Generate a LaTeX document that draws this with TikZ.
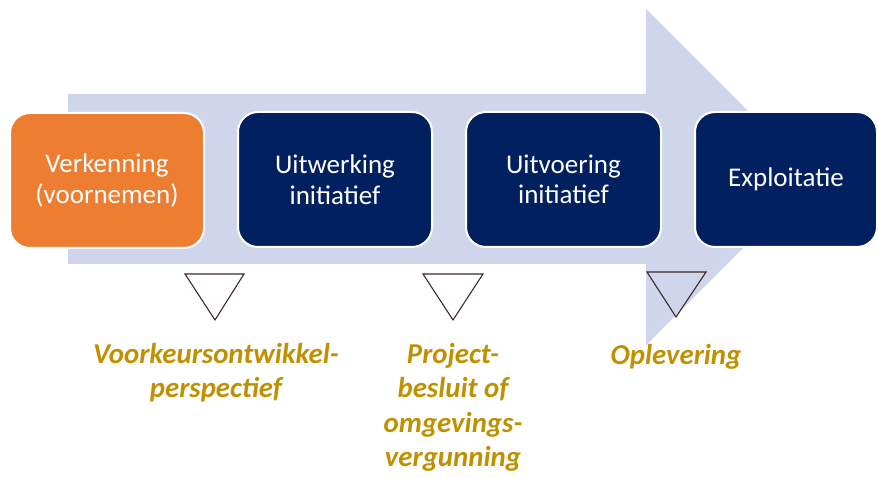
\documentclass[tikz,border=0pt]{standalone}
\usepackage{fontspec}
\setmainfont{Carlito}
\definecolor{arrowblue}{HTML}{CFD5EA}
\definecolor{navy}{HTML}{002060}
\definecolor{orangebox}{HTML}{ED7D31}
\definecolor{gold}{HTML}{BF9000}
\definecolor{tribrown}{HTML}{3C2A2A}
\begin{document}
\begin{tikzpicture}[x=1pt,y=-1pt,
  phase/.style={rounded corners=20pt, draw=white, line width=2pt, text=white,
    minimum height=135pt, inner sep=0pt, align=center,
    font=\fontsize{27}{30.5}\selectfont},
  milestone/.style={draw=tribrown, line width=1.1pt, line join=miter},
  mlabel/.style={text=gold, align=center, anchor=north, inner sep=0pt,
    font=\fontsize{28.8}{34.5}\selectfont\bfseries\itshape}]
\useasboundingbox (0,0) rectangle (878,478);
% big arrow
\fill[arrowblue] (68,94) -- (646,94) -- (646,9) -- (814,177) -- (646,345)
  -- (646,264) -- (68,264) -- cycle;
% phase boxes
\node[phase, fill=orangebox, minimum width=194pt] (verk) at (107,180.5) {Verkenning\\(voornemen)};
\node[phase, fill=navy, minimum width=194pt] (uitw) at (335,179.5) {Uitwerking\\initiatief};
\node[phase, fill=navy, minimum width=195pt] (uitv) at (563.5,179.5) {Uitvoering\\initiatief};
\node[phase, fill=navy, minimum width=182pt] (expl) at (786,179.5) {Exploitatie};
% milestone triangles
\draw[milestone] (185,274) -- (244,274) -- (215,320) -- cycle;
\draw[milestone] (423,274) -- (483,274) -- (453,320) -- cycle;
\draw[milestone] (647,272) -- (706,272) -- (676,317) -- cycle;
% milestone labels
\node[mlabel] (vkp) at (216,343) {Voorkeursontwikkel-\\perspectief};
\node[mlabel] (pb) at (453,343) {Project-\\besluit of\\omgevings-\\vergunning};
\node[mlabel] (opl) at (676,344) {Oplevering};
\end{tikzpicture}
\end{document}
